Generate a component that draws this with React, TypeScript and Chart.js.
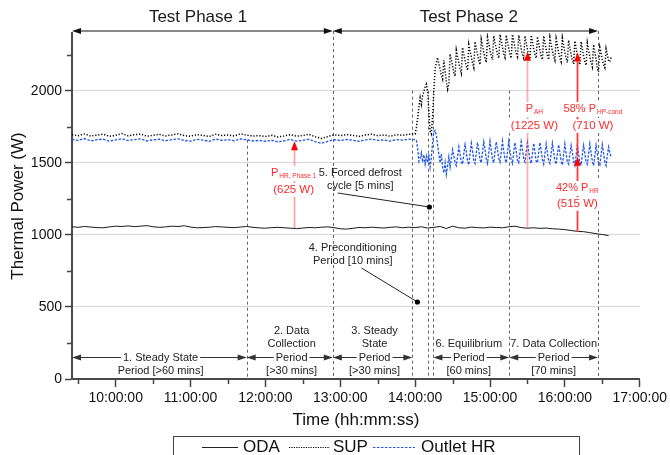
import React, { useEffect, useRef } from 'react';
import { Chart, registerables } from 'chart.js';

Chart.register(...registerables);

const FONT = '"Liberation Sans", Arial, Helvetica, sans-serif';

// ---- axes (time in minutes after midnight) ----
const X_MIN = 565; // 09:25
const X_MAX = 1020; // 17:00
const X_TICKS = [570, 600, 630, 660, 690, 720, 750, 780, 810, 840, 870, 900, 930, 960, 990, 1020];
const Y_MIN = 0;
const Y_MAX = 2400;
const Y_TICKS = [0, 250, 500, 750, 1000, 1250, 1500, 1750, 2000, 2250];

// ---- ODA (sampled every 5 min from 09:25) ----
const ODA_START = 565;
const ODA_STEP = 5;
const ODA = [
  1056, 1052, 1058, 1054, 1050, 1049, 1055, 1060, 1058, 1062,
  1057, 1060, 1064, 1056, 1052, 1055, 1060, 1058, 1063, 1054,
  1049, 1050, 1053, 1057, 1055, 1052, 1050, 1054, 1058, 1052,
  1048, 1046, 1050, 1052, 1049, 1046, 1043, 1047, 1051, 1049,
  1053, 1055, 1050, 1042, 1040, 1045, 1051, 1049, 1053, 1050,
  1047, 1052, 1055, 1049, 1053, 1050, 1056, 1047, 1052, 1058,
  1044, 1060, 1049, 1046, 1054, 1050, 1048, 1053, 1051, 1049,
  1056, 1060, 1050, 1046, 1049, 1045, 1047, 1042, 1040, 1036,
  1030, 1024, 1022, 1015, 1008, 1002, 995,
];

// ---- Test phase 1 (sampled every 5 min from 09:25) ----
const P1_START = 565;
const P1_STEP = 5;
const SUP_P1 = [
  1695, 1688, 1700, 1685, 1692, 1698, 1683, 1690, 1702, 1687,
  1694, 1699, 1684, 1691, 1697, 1686, 1693, 1700, 1688, 1684,
  1695, 1690, 1682, 1698, 1689, 1693, 1686, 1700, 1692, 1685,
  1688, 1683, 1690, 1679, 1686, 1695, 1684, 1689, 1697, 1680,
  1668, 1682, 1694, 1688, 1696, 1690, 1683, 1693, 1698, 1688,
  1692, 1684, 1695, 1690, 1698,
];
const HR_P1 = [
  1662, 1655, 1668, 1652, 1660, 1664, 1650, 1658, 1667, 1654,
  1661, 1665, 1651, 1659, 1663, 1653, 1660, 1666, 1655, 1650,
  1662, 1657, 1648, 1664, 1656, 1660, 1652, 1666, 1659, 1651,
  1655, 1649, 1656, 1645, 1652, 1661, 1650, 1655, 1663, 1646,
  1635, 1648, 1660, 1654, 1662, 1656, 1649, 1659, 1664, 1655,
  1658, 1650, 1661, 1657, 1664,
];

// ---- Test phase 2 (sampled every minute from 14:00) ----
const P2_START = 840;
const P2_STEP = 1;
const SUP_P2 = [
  1700, 1745, 1810, 1890, 1950, 1905, 1965, 1995, 2025, 2045,
  1990, 1850, 1720, 1700, 1820, 2010, 2150, 2195,
  2230, 2185, 2150, 2105, 2080, 2210, 2140, 2060, 2010, 2050,
  2255, 2215, 2170, 2125, 2100, 2280, 2235, 2195, 2150, 2120,
  2300, 2255, 2210, 2170, 2140, 2320, 2275, 2235, 2190, 2160,
  2340, 2290, 2250, 2210, 2180, 2355, 2310, 2265, 2225, 2195,
  2370, 2325, 2280, 2240, 2215, 2380, 2330, 2290, 2250, 2225,
  2390, 2345, 2300, 2255, 2230, 2385, 2340, 2295, 2250, 2225,
  2390, 2345, 2300, 2260, 2235, 2385, 2335, 2290, 2250, 2225,
  2380, 2335, 2285, 2245, 2220, 2385, 2340, 2290, 2250, 2225,
  2375, 2330, 2280, 2240, 2215, 2380, 2330, 2285, 2245, 2215,
  2370, 2320, 2275, 2235, 2210, 2360, 2315, 2265, 2225, 2200,
  2365, 2315, 2265, 2225, 2195, 2350, 2300, 2250, 2210, 2185,
  2345, 2295, 2245, 2205, 2180, 2340, 2290, 2240, 2200, 2175,
  2330, 2280, 2235, 2195, 2165, 2320, 2270, 2220, 2150, 2130,
  2300, 2260, 2215, 2180, 2160, 2290, 2250, 2210, 2200, 2230,
];
const HR_P2 = [
  1660, 1655, 1600, 1510, 1530, 1570, 1505, 1555, 1490, 1545,
  1500, 1560, 1470, 1540, 1640, 1715, 1725, 1690,
  1620, 1560, 1500, 1560, 1470, 1430, 1500, 1420, 1480, 1540,
  1470, 1530, 1590, 1550, 1500, 1480, 1545, 1610, 1560, 1505,
  1490, 1560, 1625, 1575, 1510, 1485, 1565, 1635, 1580, 1515,
  1495, 1570, 1640, 1585, 1520, 1500, 1575, 1645, 1590, 1525,
  1495, 1570, 1650, 1585, 1520, 1500, 1580, 1645, 1590, 1530,
  1505, 1575, 1650, 1580, 1525, 1500, 1570, 1645, 1585, 1520,
  1495, 1575, 1640, 1580, 1515, 1500, 1570, 1645, 1590, 1525,
  1505, 1575, 1640, 1580, 1520, 1495, 1565, 1635, 1575, 1510,
  1500, 1570, 1640, 1585, 1520, 1490, 1560, 1630, 1570, 1510,
  1495, 1565, 1635, 1575, 1515, 1490, 1560, 1625, 1570, 1510,
  1485, 1555, 1630, 1565, 1505, 1490, 1560, 1620, 1570, 1510,
  1480, 1550, 1625, 1560, 1500, 1485, 1555, 1620, 1565, 1505,
  1490, 1560, 1630, 1570, 1510, 1480, 1550, 1620, 1560, 1500,
  1485, 1555, 1625, 1565, 1505, 1480, 1550, 1610, 1570, 1540,
];

// ---- annotations ----
const MARK_T = [705, 774, 837.8, 850.6, 854.6, 915.4, 986.6];
const MARK_FROM = [1660, 2420, 2000, 2000, 2000, 2000, 2420];

const PHASE_LABELS = ['Test Phase 1', 'Test Phase 2'];
const PHASE_FROM = [565, 774];
const PHASE_TO = [774, 986.6];
const PHASE_LABEL_T = [666, 883];

const PERIOD_FROM = [565, 705, 774, 854.6, 915.4];
const PERIOD_TO = [705, 774, 837.8, 915.4, 986.6];
const PERIOD_LABEL_T = [636, 741, 807.5, 883, 951];
const PERIOD_TEXT = [
  ['1. Steady State', 'Period [>60 mins]'],
  ['2. Data', 'Collection', 'Period', '[>30 mins]'],
  ['3. Steady', 'State', 'Period', '[>30 mins]'],
  ['6. Equilibrium', 'Period', '[60 mins]'],
  ['7. Data Collection', 'Period', '[70 mins]'],
];
const PERIOD_Y = 150;

const NOTE_TEXT = [
  ['5. Forced defrost', 'cycle [5 mins]'],
  ['4. Preconditioning', 'Period [10 mins]'],
];
const NOTE_T = [796, 790];
const NOTE_Y = [1429, 909];
const NOTE_LINE_T = [778, 797];
const NOTE_LINE_Y = [1290, 770];
const NOTE_DOT_T = [851.4, 841.8];
const NOTE_DOT_Y = [1193, 534];

const ARROW_T = [742.6, 929.8, 969.8, 969.8];
const ARROW_FROM = [1045, 1042, 1545, 1020];
const ARROW_TO = [1650, 2270, 2265, 1542];
const ARROW_COLOR = ['rgba(255,90,90,0.55)', 'rgba(255,90,90,0.5)', '#ff3a3a', '#ff3a3a'];

const RED_LABEL_MAIN = ['P', 'P', '58% P', '42% P'];
const RED_LABEL_SUB = ['HR, Phase 1', 'AH', 'HP-cond', 'HR'];
const RED_LABEL_VALUE = ['(625 W)', '(1225 W)', '(710 W)', '(515 W)'];
const RED_LABEL_T = [742.6, 935.5, 982.5, 970];
const RED_LABEL_Y = [1429, 1873, 1873, 1325];
const RED_VALUE_Y = [1311, 1755, 1755, 1214];

const toPoints = (start: number, step: number, vals: number[]) =>
  vals.map((v, i) => ({ x: start + i * step, y: v }));

const fmtTime = (m: number) => {
  const h = Math.floor(m / 60);
  return `${h < 10 ? '0' + h : h}:00:00`;
};

function head(ctx: CanvasRenderingContext2D, tx: number, ty: number, dx: number, dy: number, len: number, hw: number, color: string) {
  const bx = tx - dx * len;
  const by = ty - dy * len;
  ctx.beginPath();
  ctx.moveTo(tx, ty);
  ctx.lineTo(bx - dy * hw, by + dx * hw);
  ctx.lineTo(bx + dy * hw, by - dx * hw);
  ctx.closePath();
  ctx.fillStyle = color;
  ctx.fill();
}

function doubleArrow(ctx: CanvasRenderingContext2D, x1: number, x2: number, y: number, color: string) {
  ctx.strokeStyle = color;
  ctx.lineWidth = 1;
  ctx.setLineDash([]);
  ctx.beginPath();
  ctx.moveTo(x1 + 4, y);
  ctx.lineTo(x2 - 4, y);
  ctx.stroke();
  head(ctx, x1, y, -1, 0, 9, 3, color);
  head(ctx, x2, y, 1, 0, 9, 3, color);
}

function textBg(ctx: CanvasRenderingContext2D, s: string, cx: number, cy: number, size: number, color: string, bg: boolean) {
  ctx.font = `${size}px ${FONT}`;
  const w = ctx.measureText(s).width;
  if (bg) {
    ctx.fillStyle = '#ffffff';
    ctx.fillRect(cx - w / 2 - 2, cy - size / 2 - 1, w + 4, size + 2);
  }
  ctx.fillStyle = color;
  ctx.textAlign = 'center';
  ctx.textBaseline = 'middle';
  ctx.fillText(s, cx, cy);
}

function richText(ctx: CanvasRenderingContext2D, main: string, sub: string, cx: number, cy: number, color: string) {
  ctx.font = `11px ${FONT}`;
  const w1 = ctx.measureText(main).width;
  ctx.font = `6.5px ${FONT}`;
  const w2 = ctx.measureText(sub).width;
  const total = w1 + w2 + 1;
  const x0 = cx - total / 2;
  ctx.fillStyle = '#ffffff';
  ctx.fillRect(x0 - 1, cy - 7, total + 2, 15);
  ctx.fillStyle = color;
  ctx.textAlign = 'left';
  ctx.textBaseline = 'middle';
  ctx.font = `11px ${FONT}`;
  ctx.fillText(main, x0, cy);
  ctx.font = `6.5px ${FONT}`;
  ctx.fillText(sub, x0 + w1 + 1, cy + 3);
}

const annotations = {
  id: 'annotations',
  beforeDatasetsDraw(chart: any) {
    const { ctx, chartArea: a } = chart;
    const xs = chart.scales.x;
    const ys = chart.scales.y;
    ctx.save();
    ctx.strokeStyle = '#666';
    ctx.lineWidth = 1;
    ctx.setLineDash([3, 3]);
    MARK_T.forEach((t, i) => {
      const px = Math.round(xs.getPixelForValue(t)) + 0.5;
      const top = MARK_FROM[i] > Y_MAX ? a.top - 2 : ys.getPixelForValue(MARK_FROM[i]);
      ctx.beginPath();
      ctx.moveTo(px, top);
      ctx.lineTo(px, a.bottom);
      ctx.stroke();
    });
    ctx.restore();
  },
  afterDraw(chart: any) {
    const { ctx, chartArea: a } = chart;
    const xs = chart.scales.x;
    const ys = chart.scales.y;
    const X = (t: number) => xs.getPixelForValue(t);
    const Y = (v: number) => ys.getPixelForValue(v);
    ctx.save();

    // minor ticks
    ctx.strokeStyle = '#444';
    ctx.lineWidth = 1.5;
    ctx.setLineDash([]);
    X_TICKS.filter((t) => t % 60 !== 0).forEach((t) => {
      const px = Math.round(X(t)) + 0.5;
      ctx.beginPath();
      ctx.moveTo(px, a.bottom);
      ctx.lineTo(px, a.bottom + 5);
      ctx.stroke();
    });
    Y_TICKS.filter((v) => v % 500 !== 0).forEach((v) => {
      const py = Math.round(Y(v)) + 0.5;
      ctx.beginPath();
      ctx.moveTo(a.left, py);
      ctx.lineTo(a.left - 5, py);
      ctx.stroke();
    });

    // test phase arrows
    PHASE_LABELS.forEach((lab, i) => {
      doubleArrow(ctx, X(PHASE_FROM[i]), X(PHASE_TO[i]), a.top - 2, '#111');
      textBg(ctx, lab, X(PHASE_LABEL_T[i]), 17, 17, '#1a1a1a', false);
    });

    // period arrows
    PERIOD_TEXT.forEach((lines, i) => {
      const py = Math.round(Y(PERIOD_Y)) + 0.5;
      doubleArrow(ctx, X(PERIOD_FROM[i]), X(PERIOD_TO[i]), py, '#333');
      const onLine = lines.length - 2;
      lines.forEach((s, j) => {
        textBg(ctx, s, X(PERIOD_LABEL_T[i]), py + (j - onLine) * 13.5, 11, '#222', j === onLine);
      });
    });

    // red arrows
    ARROW_T.forEach((t, i) => {
      const px = Math.round(X(t)) + 0.5;
      const y1 = Y(ARROW_FROM[i]);
      const y2 = Y(ARROW_TO[i]);
      ctx.strokeStyle = ARROW_COLOR[i];
      ctx.lineWidth = 1.8;
      ctx.beginPath();
      ctx.moveTo(px, y1);
      ctx.lineTo(px, y2 + 6);
      ctx.stroke();
      head(ctx, px, y2, 0, -1, 9, 3.5, '#ff0000');
    });
    RED_LABEL_MAIN.forEach((m, i) => {
      richText(ctx, m, RED_LABEL_SUB[i], X(RED_LABEL_T[i]), Y(RED_LABEL_Y[i]), '#ff2a2a');
      textBg(ctx, RED_LABEL_VALUE[i], X(RED_LABEL_T[i]), Y(RED_VALUE_Y[i]), 11.5, '#ff2a2a', true);
    });

    // notes with leader lines
    NOTE_TEXT.forEach((lines, i) => {
      lines.forEach((s, j) => {
        textBg(ctx, s, X(NOTE_T[i]), Y(NOTE_Y[i]) + j * 13, 11, '#222', false);
      });
      ctx.strokeStyle = '#222';
      ctx.lineWidth = 1;
      ctx.beginPath();
      ctx.moveTo(X(NOTE_LINE_T[i]), Y(NOTE_LINE_Y[i]));
      ctx.lineTo(X(NOTE_DOT_T[i]), Y(NOTE_DOT_Y[i]));
      ctx.stroke();
      ctx.fillStyle = '#000';
      ctx.beginPath();
      ctx.arc(X(NOTE_DOT_T[i]), Y(NOTE_DOT_Y[i]), 2.6, 0, Math.PI * 2);
      ctx.fill();
    });

    // axis titles
    ctx.fillStyle = '#111';
    ctx.font = `17px ${FONT}`;
    ctx.textAlign = 'center';
    ctx.textBaseline = 'middle';
    ctx.fillText('Time (hh:mm:ss)', (a.left + a.right) / 2, 420);
    ctx.save();
    ctx.translate(18, (a.top + a.bottom) / 2);
    ctx.rotate(-Math.PI / 2);
    ctx.fillText('Thermal Power (W)', 0, 0);
    ctx.restore();

    // legend
    ctx.strokeStyle = '#444';
    ctx.lineWidth = 1;
    ctx.strokeRect(173.5, 436.5, 406, 40);
    const ly = 447.5;
    ctx.lineWidth = 1;
    ctx.strokeStyle = '#222';
    ctx.setLineDash([]);
    ctx.beginPath(); ctx.moveTo(202, ly); ctx.lineTo(238, ly); ctx.stroke();
    ctx.setLineDash([1.2, 1.2]);
    ctx.strokeStyle = '#000';
    ctx.beginPath(); ctx.moveTo(289, ly); ctx.lineTo(330, ly); ctx.stroke();
    ctx.setLineDash([2.5, 1.5]);
    ctx.strokeStyle = '#1f55e8';
    ctx.beginPath(); ctx.moveTo(373, ly); ctx.lineTo(415, ly); ctx.stroke();
    ctx.setLineDash([]);
    ctx.fillStyle = '#111';
    ctx.font = `17px ${FONT}`;
    ctx.textAlign = 'left';
    ctx.textBaseline = 'middle';
    ctx.fillText('ODA', 243, ly);
    ctx.fillText('SUP', 333, ly);
    ctx.fillText('Outlet HR', 421, ly);

    ctx.restore();
  },
};

export default function App() {
  const ref = useRef<HTMLCanvasElement>(null);
  useEffect(() => {
    if (!ref.current) return;
    const chart = new Chart(ref.current, {
      type: 'line',
      data: {
        datasets: [
          {
            label: 'ODA',
            data: toPoints(ODA_START, ODA_STEP, ODA),
            borderColor: '#1a1a1a',
            borderWidth: 1,
            pointRadius: 0,
            tension: 0,
          },
          {
            label: 'Outlet HR',
            data: [...toPoints(P1_START, P1_STEP, HR_P1), ...toPoints(P2_START, P2_STEP, HR_P2)],
            borderColor: '#1f55e8',
            borderWidth: 1.3,
            borderDash: [2.5, 1.5],
            pointRadius: 0,
            tension: 0,
          },
          {
            label: 'SUP',
            data: [...toPoints(P1_START, P1_STEP, SUP_P1), ...toPoints(P2_START, P2_STEP, SUP_P2)],
            borderColor: '#000000',
            borderWidth: 1.5,
            borderDash: [1.2, 1.8],
            pointRadius: 0,
            tension: 0,
          },
        ],
      },
      options: {
        responsive: false,
        animation: false,
        events: [],
        layout: { padding: { top: 33, right: 27, left: 0, bottom: 0 } },
        plugins: { legend: { display: false }, tooltip: { enabled: false } },
        scales: {
          x: {
            type: 'linear',
            min: X_MIN,
            max: X_MAX,
            afterBuildTicks: (s: any) => {
              s.ticks = X_TICKS.map((v) => ({ value: v }));
            },
            afterFit: (s: any) => {
              s.height = 76;
            },
            ticks: {
              autoSkip: false,
              maxRotation: 0,
              padding: 3,
              color: '#111',
              font: { family: FONT, size: 14 },
              callback: (v: any) => (Number(v) % 60 === 0 ? fmtTime(Number(v)) : ''),
            },
            grid: {
              drawOnChartArea: false,
              tickLength: 8,
              tickWidth: 1.5,
              tickColor: (c: any) => (c.tick && c.tick.value % 60 === 0 ? '#444' : 'rgba(0,0,0,0)'),
            },
            border: { color: '#4a4a4a', width: 2 },
          },
          y: {
            min: Y_MIN,
            max: Y_MAX,
            afterBuildTicks: (s: any) => {
              s.ticks = Y_TICKS.map((v) => ({ value: v }));
            },
            afterFit: (s: any) => {
              s.width = 72;
            },
            ticks: {
              padding: 3,
              color: '#111',
              font: { family: FONT, size: 14 },
              callback: (v: any) => (Number(v) % 500 === 0 ? String(v) : ''),
            },
            grid: {
              tickLength: 7,
              tickWidth: 1.5,
              lineWidth: 1,
              color: (c: any) =>
                c.tick && c.tick.value % 500 === 0 && c.tick.value > 0 ? '#d6d6d6' : 'rgba(0,0,0,0)',
              tickColor: (c: any) => (c.tick && c.tick.value % 500 === 0 ? '#444' : 'rgba(0,0,0,0)'),
            },
            border: { color: '#4a4a4a', width: 2 },
          },
        },
      },
      plugins: [annotations],
    });
    return () => chart.destroy();
  }, []);
  return (
    <div style={{ position: 'fixed', left: 0, top: 0, width: 670, height: 455, background: '#ffffff' }}>
      <canvas ref={ref} width={670} height={455} style={{ display: 'block', width: 670, height: 455 }} />
    </div>
  );
}
